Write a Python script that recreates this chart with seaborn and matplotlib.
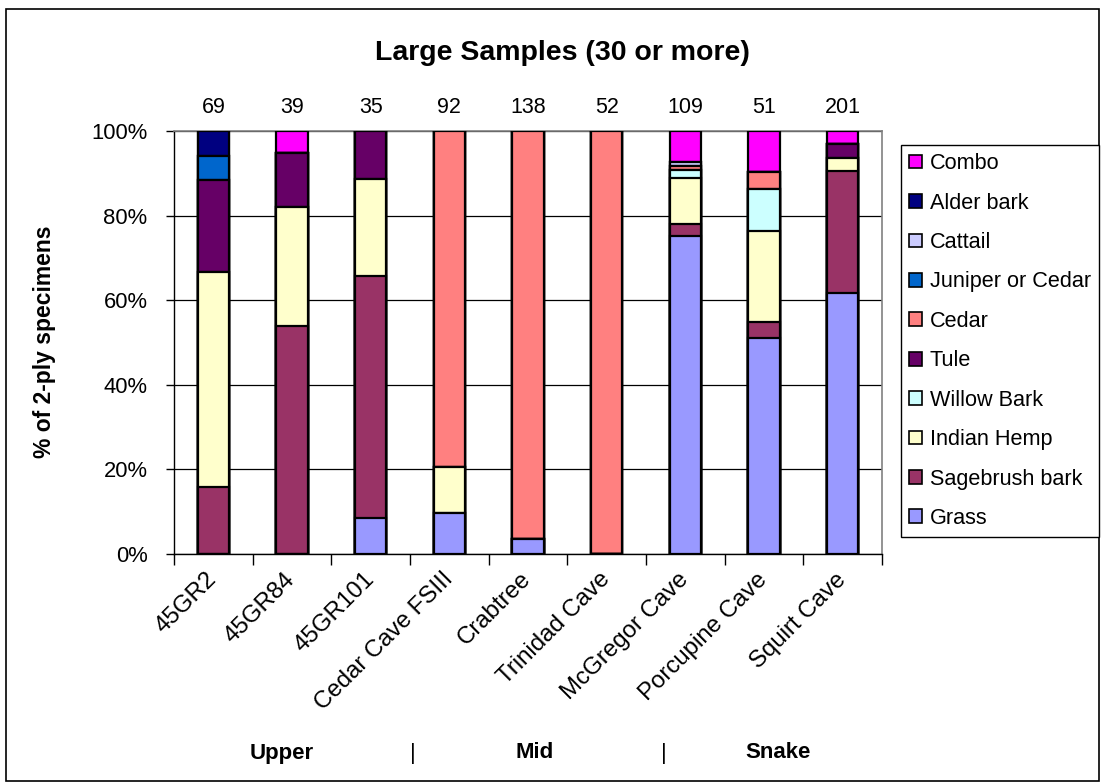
import matplotlib
matplotlib.use("Agg")
import matplotlib.pyplot as plt
import matplotlib.transforms as mtransforms
import seaborn as sns
import numpy as np
import pandas as pd
from matplotlib.patches import Patch, Rectangle
from matplotlib.ticker import PercentFormatter

# ---------------- data ----------------
sites = ["45GR2", "45GR84", "45GR101", "Cedar Cave FSIII", "Crabtree",
         "Trinidad Cave", "McGregor Cave", "Porcupine Cave", "Squirt Cave"]
totals = [69, 39, 35, 92, 138, 52, 109, 51, 201]

grass     = [0, 0, 3, 9, 5, 0, 82, 26, 124]
sagebrush = [11, 21, 20, 0, 0, 0, 3, 2, 58]
hemp      = [35, 11, 8, 10, 0, 0, 12, 11, 6]
willow    = [0, 0, 0, 0, 0, 0, 2, 5, 0]
tule      = [15, 5, 4, 0, 0, 0, 0, 0, 7]
cedar     = [0, 0, 0, 73, 133, 52, 1, 2, 0]
juniper   = [4, 0, 0, 0, 0, 0, 0, 0, 0]
cattail   = [0, 0, 0, 0, 0, 0, 1, 0, 0]
alder     = [4, 0, 0, 0, 0, 0, 0, 0, 0]
combo     = [0, 2, 0, 0, 0, 0, 8, 5, 6]

series_names = ["Grass", "Sagebrush bark", "Indian Hemp", "Willow Bark", "Tule",
                "Cedar", "Juniper or Cedar", "Cattail", "Alder bark", "Combo"]
series_colors = ["#9999FF", "#993366", "#FFFFCC", "#CCFFFF", "#660066",
                 "#FF8080", "#0066CC", "#CCCCFF", "#000080", "#FF00FF"]
groups = ["Upper", "Mid", "Snake"]

# ---------------- build table ----------------
df = pd.DataFrame(dict(zip(series_names,
                           [grass, sagebrush, hemp, willow, tule, cedar,
                            juniper, cattail, alder, combo])), index=sites)
pct = df.div(df.sum(axis=1), axis=0) * 100
cum = pct.cumsum(axis=1)

sns.set_theme(style="white")
plt.rcParams["font.family"] = ["Liberation Sans", "DejaVu Sans"]
plt.rcParams["text.color"] = "black"
plt.rcParams["axes.labelcolor"] = "black"
plt.rcParams["xtick.color"] = "black"
plt.rcParams["ytick.color"] = "black"

W, H = 1102, 783
fig = plt.figure(figsize=(W / 100, H / 100), dpi=100)
L, R, T, B = 174, 882, 131, 554
ax = fig.add_axes([L / W, 1 - B / H, (R - L) / W, (B - T) / H])

for name, color in reversed(list(zip(series_names, series_colors))):
    sns.barplot(x=sites, y=cum[name].values, order=sites, color=color,
                saturation=1, edgecolor="black", linewidth=1.6, width=0.4,
                errorbar=None, ax=ax, zorder=3)

ax.set_xlim(-0.5, len(sites) - 0.5)
ax.set_ylim(0, 100)
ax.set_xlabel("")
ax.set_ylabel("")

# grid
ax.set_yticks([0, 20, 40, 60, 80, 100])
ax.yaxis.set_major_formatter(PercentFormatter(decimals=0))
ax.yaxis.grid(True, color="black", linewidth=0.9)
ax.set_axisbelow(True)

# spines
for s in ["top", "right"]:
    ax.spines[s].set_color("#808080")
    ax.spines[s].set_linewidth(1.2)
for s in ["left", "bottom"]:
    ax.spines[s].set_color("black")
    ax.spines[s].set_linewidth(1.0)

# ticks
ax.set_xticks(range(len(sites)))
ax.set_xticklabels(sites, rotation=45, ha="right", va="center",
                   rotation_mode="anchor", fontsize=17.3)
offset = mtransforms.ScaledTranslation(-0.07, -0.13, fig.dpi_scale_trans)
for lab in ax.get_xticklabels():
    lab.set_transform(lab.get_transform() + offset)
ax.set_xticks(np.arange(-0.5, len(sites)), minor=True)
ax.tick_params(axis="x", which="major", length=0, pad=16)
ax.tick_params(axis="x", which="minor", length=8, width=1, color="black",
               direction="out", bottom=True)
ax.tick_params(axis="y", which="major", length=6, width=1, color="black",
               direction="out", left=True, labelsize=15.8, pad=13)

# counts above bars
for i, n in enumerate(totals):
    ax.text(i, 105.5, str(n), ha="center", va="center", fontsize=15.5,
            clip_on=False)

# title and y label
fig.text(562 / W, 1 - 53 / H, "Large Samples (30 or more)", ha="center",
         va="center", fontsize=20.5, fontweight="bold")
fig.text(45 / W, 1 - 342 / H, "% of 2-ply specimens", ha="center",
         va="center", rotation=90, fontsize=16.5, fontweight="bold")

# group labels
gy = 1 - 753 / H
for xpx, txt in zip([282, 535, 778], groups):
    fig.text(xpx / W, gy, txt, ha="center", va="center", fontsize=16,
             fontweight="bold")
for xpx in [413, 664]:
    fig.text(xpx / W, gy, "|", ha="center", va="center", fontsize=16)

# legend
handles = [Patch(facecolor=c, edgecolor="black", linewidth=1.2)
           for c in series_colors][::-1]
labels = series_names[::-1]
leg = fig.legend(handles, labels, loc="upper left",
                 bbox_to_anchor=(901 / W, 1 - 145 / H), frameon=True,
                 fancybox=False, edgecolor="black", framealpha=1,
                 fontsize=15.6, handlelength=0.6, handleheight=0.6,
                 handletextpad=0.35, labelspacing=0.85, borderpad=0.38,
                 borderaxespad=0)
leg.get_frame().set_linewidth(1.0)

# outer border
fig.add_artist(Rectangle((6 / W, 1 - 781 / H), (1099 - 6) / W, (781 - 9) / H,
                         transform=fig.transFigure, fill=False,
                         edgecolor="black", linewidth=1.2))

fig.savefig("out.png", dpi=100)
